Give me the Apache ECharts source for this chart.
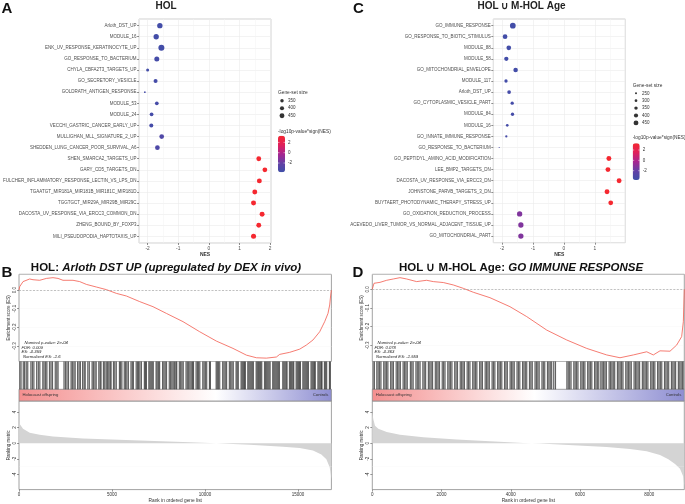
<!DOCTYPE html>
<html><head><meta charset="utf-8">
<script src="https://cdn.jsdelivr.net/npm/echarts@6/dist/echarts.min.js"></script>
<style>html,body{margin:0;padding:0;background:#fff}#c{width:685px;height:504px}</style>
</head><body><div id="c"></div>
<script>
// ---------- Panel A (HOL) ----------
const aTerms = ['Arloth_DST_UP','MODULE_16','ENK_UV_RESPONSE_KERATINOCYTE_UP','GO_RESPONSE_TO_BACTERIUM','CHYLA_CBFA2T3_TARGETS_UP','GO_SECRETORY_VESICLE','GOLDRATH_ANTIGEN_RESPONSE','MODULE_53','MODULE_24','VECCHI_GASTRIC_CANCER_EARLY_UP','MULLIGHAN_MLL_SIGNATURE_2_UP','SHEDDEN_LUNG_CANCER_POOR_SURVIVAL_A6','SHEN_SMARCA2_TARGETS_UP','GARY_CD5_TARGETS_DN','FULCHER_INFLAMMATORY_RESPONSE_LECTIN_VS_LPS_DN','TGAATGT_MIR181A_MIR181B_MIR181C_MIR181D','TGGTGCT_MIR29A_MIR29B_MIR29C','DACOSTA_UV_RESPONSE_VIA_ERCC3_COMMON_DN','ZHENG_BOUND_BY_FOXP3','MILI_PSEUDOPODIA_HAPTOTAXIS_UP'];
const aNES  = [-1.60,-1.72,-1.55,-1.70,-2.00,-1.74,-2.09,-1.70,-1.87,-1.88,-1.54,-1.68,1.63,1.83,1.65,1.50,1.46,1.74,1.63,1.46];
const aSize = [484,478,526,457,319,388,229,367,367,388,436,436,445,440,450,450,455,455,450,458];
const aLogP = [-3.6,-3.6,-3.6,-3.5,-3.6,-3.5,-3.5,-3.4,-3.5,-3.5,-3.0,-3.1,3.3,3.3,3.3,3.3,3.3,3.3,3.3,3.3];
const aSizeBreaks = ['350','400','450'];

// ---------- Panel C (HOL ∪ M-HOL Age) ----------
const cTerms = ['GO_IMMUNE_RESPONSE','GO_RESPONSE_TO_BIOTIC_STIMULUS','MODULE_88','MODULE_58','GO_MITOCHONDRIAL_ENVELOPE','MODULE_117','Arloth_DST_UP','GO_CYTOPLASMIC_VESICLE_PART','MODULE_84','MODULE_16','GO_INNATE_IMMUNE_RESPONSE','GO_RESPONSE_TO_BACTERIUM','GO_PEPTIDYL_AMINO_ACID_MODIFICATION','LEE_BMP2_TARGETS_DN','DACOSTA_UV_RESPONSE_VIA_ERCC3_DN','JOHNSTONE_PARVB_TARGETS_3_DN','BUYTAERT_PHOTODYNAMIC_THERAPY_STRESS_UP','GO_OXIDATION_REDUCTION_PROCESS','ACEVEDO_LIVER_TUMOR_VS_NORMAL_ADJACENT_TISSUE_UP','GO_MITOCHONDRIAL_PART'];
const cNES  = [-1.65,-1.90,-1.78,-1.86,-1.56,-1.87,-1.77,-1.67,-1.66,-1.83,-1.86,-2.09,1.45,1.42,1.78,1.39,1.51,-1.43,-1.39,-1.39];
const cSize = [505,436,436,409,425,340,367,340,340,298,271,190,450,450,450,450,440,478,478,478];
const cLogP = [-3.6,-3.6,-3.6,-3.6,-3.6,-3.6,-3.5,-3.5,-3.5,-3.5,-3.4,-3.3,3.3,3.3,3.3,3.3,3.3,-1.3,-1.3,-1.3];
const cSizeBreaks = ['250','300','350','400','450'];
const colorBreaks = [2,0,-2];
const minorBreaks = [-1.5,-0.5,0.5,1.5];

// ---------- Panel B (GSEA: Arloth DST UP) ----------
const esBRank = [0,38,217,575,753,1113,1473,1828,2097,2365,2903,3263,3623,4161,4699,5236,5774,6489,7204,7925,8817,9714,10612,11505,12225,12762,13300,13838,14015,14553,15090,15450,15805,16166,16434,16612,16703,16757,16795];
const esBVal  = [0,0.018,0.045,0.059,0.055,0.052,0.062,0.066,0.062,0.052,0.052,0.045,0.030,0.016,0.002,-0.018,-0.032,-0.062,-0.089,-0.125,-0.169,-0.223,-0.273,-0.312,-0.348,-0.362,-0.364,-0.358,-0.344,-0.333,-0.316,-0.294,-0.267,-0.223,-0.169,-0.125,-0.080,-0.027,0];
const rankBRank = [0,38,217,575,1113,1828,3443,6131,8817,10612,12405,14195,15090,15805,16255,16524,16703,16757,16795];
const rankBVal  = [3.3,2.45,1.84,1.35,1.1,0.86,0.61,0.37,0.16,0,-0.2,-0.45,-0.61,-0.94,-1.43,-2.04,-3.07,-3.89,-4.6];
const hitsB = [40,110,230,300,390,470,640,720,800,950,1040,1120,1280,1350,1430,1500,1640,1720,1800,1950,2030,2100,2420,2500,2580,2660,2800,2870,2950,3020,3150,3230,3300,3420,3500,3560,3700,3780,3930,4000,4080,4150,4290,4360,4410,4540,4610,4690,4760,4830,4900,4950,5080,5150,5230,5400,5460,5530,5660,5730,5800,5880,6020,6090,6150,6300,6370,6430,6500,6580,6740,6800,6850,6980,7040,7100,7160,7220,7370,7430,7500,7560,7720,7790,7860,7930,8080,8150,8220,8290,8360,8430,8480,8620,8690,8760,8830,8980,9050,9120,9190,9260,9330,9380,9520,9590,9650,9720,9880,9950,10020,10090,10240,10290,10600,10660,10720,10790,10950,11020,11090,11160,11310,11380,11450,11520,11670,11730,11790,11940,12000,12060,12120,12170,12300,12360,12420,12480,12540,12600,12750,12810,12870,12930,12990,13050,13200,13260,13320,13380,13440,13500,13640,13700,13760,13820,13880,13940,14000,14180,14240,14300,14360,14410,14540,14600,14660,14720,14770,14900,14960,15020,15080,15130,15260,15320,15380,15440,15500,15560,15700,15760,15820,15880,15930,16070,16130,16190,16250,16290,16420,16480,16540,16690,16740];
const nGenesB = 16795;
const statsB = ['Nominal p-value: 2e-04','FDR: 0.009','ES: -0.359','Normalized ES: -1.6'];

// ---------- Panel D (GSEA: GO IMMUNE RESPONSE) ----------
const esDRank = [0,49,222,415,607,800,992,1281,1570,1762,2051,2339,2628,2917,3398,3976,4459,5037,5615,6192,6770,7154,7538,7925,8116,8309,8598,8791,8935,8983,9011];
const esDVal  = [0,0.032,0.037,0.048,0.055,0.062,0.055,0.041,0.048,0.041,0.036,0.023,0.005,-0.016,-0.045,-0.093,-0.146,-0.218,-0.271,-0.316,-0.351,-0.366,-0.351,-0.334,-0.351,-0.329,-0.331,-0.298,-0.253,-0.173,0];
const rankDRank = [0,30,78,174,415,800,1474,2436,3398,4361,4842,5805,6768,7442,7923,8309,8550,8743,8887,8983,9011];
const rankDVal  = [3.9,3.07,2.25,1.84,1.43,1.1,0.78,0.49,0.25,0.04,-0.04,-0.25,-0.49,-0.74,-1.02,-1.51,-2.04,-2.66,-3.27,-4.29,-5.5];
const hitsD = [20,60,130,170,210,250,330,370,410,450,530,570,610,690,730,770,810,890,930,970,1010,1100,1140,1180,1260,1300,1340,1380,1460,1500,1540,1620,1660,1700,1740,1820,1860,1900,1940,2020,2060,2100,2180,2220,2260,2300,2380,2420,2460,2540,2580,2620,2660,2740,2780,2820,2900,2940,2980,3020,3100,3140,3180,3260,3300,3340,3380,3460,3500,3540,3620,3660,3700,3740,3820,3860,3900,3980,4020,4060,4100,4180,4220,4260,4340,4380,4420,4460,4540,4580,4620,4700,4740,4780,4820,4900,4940,4980,5060,5100,5140,5180,5240,5290,5620,5660,5700,5740,5820,5860,5900,5940,6020,6060,6100,6140,6220,6260,6300,6340,6420,6460,6500,6540,6600,6640,6680,6720,6760,6840,6880,6920,6960,7000,7080,7120,7160,7200,7240,7320,7360,7400,7440,7480,7560,7600,7640,7680,7720,7800,7840,7880,7920,7960,8040,8080,8120,8160,8240,8280,8320,8360,8440,8480,8520,8560,8640,8680,8720,8760,8840,8880,8920,8960,9000];
const nGenesD = 9011;
const statsD = ['Nominal p-value: 2e-04','FDR: 0.078','ES: -0.363','Normalized ES: -1.559'];

// ================== rendering ==================
const FF = "'Liberation Sans', Arial, Helvetica, sans-serif";
const chart = echarts.init(document.getElementById('c'), null, {renderer:'canvas'});
const diam = s => Math.max(1, 2 + (s - 250) * 0.0145);
const CMIN = -3.8, CMAX = 3.3;
const cStops = ['#3F4FA8','#6440A6','#A8248F','#E0205A','#F52830'];

const G = {
  a:{left:133,top:19,width:138,height:224},
  aL:{left:279,top:97,width:6,height:22.5},
  c:{left:493.3,top:19,width:132,height:223.7},
  cL:{left:633,top:89.6,width:6,height:37},
  bE:{left:19,top:274.3,width:312.4,height:87.2},
  bH:{left:19,top:361.5,width:312.4,height:27.8},
  bR:{left:19,top:401,width:312.4,height:92.3},
  dE:{left:372.3,top:274.3,width:312,height:87.2},
  dH:{left:372.3,top:361.5,width:312,height:27.8},
  dR:{left:372.3,top:401,width:312,height:92.3}
};
const order = ['a','aL','c','cL','bE','bH','bR','dE','dH','dR'];
const gi = k => order.indexOf(k);
const grids = order.map(k => {
  const g = Object.assign({containLabel:false, show:false}, G[k]);
  if (k==='a'||k==='c') { g.show=true; g.borderColor='#c4c4c4'; g.borderWidth=0.8; g.backgroundColor='transparent'; }
  if (k==='bE'||k==='dE'||k==='bR'||k==='dR') { g.show=true; g.borderColor='#8a8a8a'; g.borderWidth=0.8; g.backgroundColor='transparent'; }
  return g;
});

const lab = {fontFamily:FF, fontSize:4.8, color:'#4d4d4d'};
const noLine = {show:false, onZero:false};
const hidden = (gIdx, min, max) => ({type:'value', gridIndex:gIdx, min, max, show:false, axisLine:noLine, splitLine:{show:false}});

function nesX(gIdx, min, max) {
  return {type:'value', gridIndex:gIdx, min, max, splitNumber:4,
    axisLine:noLine, axisTick:{show:true, length:2, lineStyle:{color:'#444', width:0.6}},
    axisLabel:Object.assign({margin:3, showMinLabel:false, showMaxLabel:false}, lab),
    splitLine:{show:true, lineStyle:{color:'#ebebeb', width:0.6}},
    name:'NES', nameLocation:'middle', nameGap:9, nameTextStyle:{fontFamily:FF, fontSize:5, color:'#333', fontWeight:'bold'}};
}
function termY(gIdx, terms) {
  return {type:'value', gridIndex:gIdx, inverse:true, min:0.4, max:terms.length+0.6, splitNumber:terms.length,
    axisLine:noLine, axisTick:{show:true, length:2, lineStyle:{color:'#444', width:0.6}},
    axisLabel:Object.assign({margin:2.5, showMinLabel:false, showMaxLabel:false,
      formatter:v => (Math.abs(v-Math.round(v))<1e-6 && terms[Math.round(v)-1]) ? terms[Math.round(v)-1] : ''}, lab, {fontSize:4.5}),
    splitLine:{show:true, lineStyle:{color:'#ebebeb', width:0.6}}};
}
function legY(gIdx, cats) {
  return {type:'category', gridIndex:gIdx, data:cats, inverse:true, position:'right',
    axisLine:noLine, axisTick:{show:false}, splitLine:{show:false},
    axisLabel:{margin:3, fontFamily:FF, fontSize:4.5, color:'#333'}};
}
function esY(gIdx, min, max) {
  return {type:'value', gridIndex:gIdx, min, max, splitNumber:4,
    axisLine:noLine, axisTick:{show:true, length:2, lineStyle:{color:'#555', width:0.6}},
    axisLabel:Object.assign({margin:2, rotate:90, showMinLabel:false, showMaxLabel:false, formatter:v=>v.toFixed(1)}, lab, {fontSize:4.5, color:'#333'}),
    splitLine:{show:true, lineStyle:{color:'#eeeeee', width:0.5, type:'dotted'}},
    name:'Enrichment score (ES)', nameLocation:'middle', nameGap:8, nameRotate:90,
    nameTextStyle:{fontFamily:FF, fontSize:4.5, color:'#333'}};
}
function rankY(gIdx) {
  return {type:'value', gridIndex:gIdx, min:-5.93, max:5.4, splitNumber:5,
    axisLine:noLine, axisTick:{show:true, length:2, lineStyle:{color:'#555', width:0.6}},
    axisLabel:Object.assign({margin:2, rotate:90, showMinLabel:false, showMaxLabel:false, formatter:v=>String(v)}, lab, {fontSize:4.5, color:'#333'}),
    splitLine:{show:false},
    name:'Ranking metric', nameLocation:'middle', nameGap:8, nameRotate:90,
    nameTextStyle:{fontFamily:FF, fontSize:4.5, color:'#333'}};
}
function rankX(gIdx, max, split) {
  return {type:'value', gridIndex:gIdx, min:0, max, splitNumber:split, position:'bottom',
    axisLine:noLine, axisTick:{show:true, length:2, lineStyle:{color:'#555', width:0.6}},
    axisLabel:Object.assign({margin:2.5, showMaxLabel:false, formatter:v=>String(v)}, lab, {fontSize:4.5, color:'#333'}),
    splitLine:{show:false},
    name:'Rank in ordered gene list', nameLocation:'middle', nameGap:8,
    nameTextStyle:{fontFamily:FF, fontSize:4.8, color:'#333'}};
}

const xAxis = [
  nesX(gi('a'), -2.28, 2.03),
  hidden(gi('aL'), 0, 1),
  nesX(gi('c'), -2.28, 1.98),
  hidden(gi('cL'), 0, 1),
  hidden(gi('bE'), 0, nGenesB),
  hidden(gi('bH'), 0, nGenesB),
  rankX(gi('bR'), nGenesB, 3),
  hidden(gi('dE'), 0, nGenesD),
  hidden(gi('dH'), 0, nGenesD),
  rankX(gi('dR'), nGenesD, 4)
];
const yAxis = [
  termY(gi('a'), aTerms),
  legY(gi('aL'), aSizeBreaks),
  termY(gi('c'), cTerms),
  legY(gi('cL'), cSizeBreaks),
  esY(gi('bE'), -0.382, 0.084),
  hidden(gi('bH'), 0, 1),
  rankY(gi('bR')),
  esY(gi('dE'), -0.386, 0.080),
  hidden(gi('dH'), 0, 1),
  rankY(gi('dR'))
];

const minorML = {silent:true, symbol:'none', label:{show:false}, animation:false,
  lineStyle:{color:'#f3f3f3', width:0.5, type:'solid'}, data:minorBreaks.map(v=>({xAxis:v}))};

function dots(idx, terms, nes, size, logp) {
  return {type:'scatter', xAxisIndex:idx, yAxisIndex:idx, z:5,
    data: terms.map((t,i)=>[nes[i], i+1, size[i], logp[i]]),
    symbolSize: v => diam(v[2]), itemStyle:{opacity:1}, markLine:minorML, animation:false};
}
function legDots(idx, cats) {
  return {type:'scatter', xAxisIndex:idx, yAxisIndex:idx, data:cats.map(c=>[0.5, c]),
    symbolSize: v => diam(+v[1]), itemStyle:{color:'#000'}, animation:false};
}
function esLine(idx, rk, vals) {
  return {type:'line', xAxisIndex:idx, yAxisIndex:idx, data:rk.map((r,i)=>[r, vals[i]]),
    showSymbol:false, smooth:false, lineStyle:{color:'#F25B4E', width:0.8}, animation:false,
    markLine:{silent:true, symbol:'none', label:{show:false}, lineStyle:{color:'#9a9a9a', width:0.6, type:[2,1.5]}, data:[{yAxis:0}]}};
}
function hitSeries(idx, hits) {
  return {type:'custom', xAxisIndex:idx, yAxisIndex:idx, data:hits.map(h=>[h,0]), encode:{x:0,y:1}, animation:false,
    renderItem:(params, api) => {
      const x = api.coord([api.value(0), 0])[0];
      const cs = params.coordSys;
      return {type:'line', shape:{x1:x, y1:cs.y, x2:x, y2:cs.y+cs.height},
        style:{stroke:'rgba(0,0,0,0.62)', lineWidth:1.2}};
    }};
}
function rankArea(idx, rk, vals) {
  return {type:'line', xAxisIndex:idx, yAxisIndex:idx, data:rk.map((r,i)=>[r, vals[i]]),
    showSymbol:false, lineStyle:{width:0, color:'#d4d4d4'}, areaStyle:{color:'#d4d4d4', opacity:1}, animation:false,
    markLine:{silent:true, symbol:'none', label:{show:false}, lineStyle:{color:'#f0f0f0', width:0.5, type:'dotted'}, data:[{yAxis:-2.95}]}};
}

const series = [
  dots(0, aTerms, aNES, aSize, aLogP),
  legDots(1, aSizeBreaks),
  dots(2, cTerms, cNES, cSize, cLogP),
  legDots(3, cSizeBreaks),
  esLine(4, esBRank, esBVal),
  hitSeries(5, hitsB),
  rankArea(6, rankBRank, rankBVal),
  esLine(7, esDRank, esDVal),
  hitSeries(8, hitsD),
  rankArea(9, rankDRank, rankDVal)
];

function vm(seriesIndex, left, top) {
  return {type:'continuous', seriesIndex, dimension:3, min:CMIN, max:CMAX, inRange:{color:cStops},
    show:true, calculable:false, hoverLink:false, left, top, itemWidth:7, itemHeight:36.6, padding:0, text:null, orient:'vertical'};
}

// graphic elements
const gfx = [];
const txt = (x, y, text, style) => gfx.push({type:'text', x, y, silent:true,
  style:Object.assign({text, fontFamily:FF, fontSize:5, fill:'#333', textVerticalAlign:'middle', verticalAlign:'middle'}, style)});
txt(1.5, 8.5, 'A', {fontSize:15, fontWeight:'bold', fill:'#111'});
txt(353, 9, 'C', {fontSize:15, fontWeight:'bold', fill:'#111'});
txt(1.5, 273, 'B', {fontSize:15, fontWeight:'bold', fill:'#111'});
txt(352.5, 273, 'D', {fontSize:15, fontWeight:'bold', fill:'#111'});
txt(166, 6, 'HOL', {fontSize:10, fontWeight:'bold', fill:'#222', align:'center', textAlign:'center'});
txt(521.5, 6, 'HOL \u222A M-HOL Age', {fontSize:10, fontWeight:'bold', fill:'#222', align:'center', textAlign:'center'});
function richTitle(x, y, a, b) {
  gfx.push({type:'text', x, y, silent:true, style:{text:'{n|'+a+'}{i|'+b+'}', align:'center', textAlign:'center', verticalAlign:'middle', textVerticalAlign:'middle',
    rich:{n:{fontFamily:FF, fontSize:11.5, fontWeight:'bold', fill:'#111', color:'#111'}, i:{fontFamily:FF, fontSize:11.5, fontWeight:'bold', fontStyle:'italic', fill:'#111', color:'#111'}}}});
}
richTitle(166, 267.5, 'HOL: ', 'Arloth DST UP (upregulated by DEX in vivo)');
richTitle(521, 267.5, 'HOL \u222A M-HOL Age: ', 'GO IMMUNE RESPONSE');
txt(278, 93, 'Gene-set size', {fontSize:4.8});
txt(278, 131.7, '-log10p-value*sign(NES)', {fontSize:4.8});
txt(632.7, 85.3, 'Gene-set size', {fontSize:4.8});
txt(632.7, 137.3, '-log10p-value*sign(NES)', {fontSize:4.8});
function cbLabels(left, top, h) {
  colorBreaks.forEach(v => {
    const y = top + (CMAX - v) / (CMAX - CMIN) * h;
    txt(left + 10, y, String(v), {fontSize:4.5});
    gfx.push({type:'line', silent:true, z:100, shape:{x1:left, y1:y, x2:left+1.5, y2:y}, style:{stroke:'#fff', lineWidth:0.5}});
    gfx.push({type:'line', silent:true, z:100, shape:{x1:left+5.5, y1:y, x2:left+7, y2:y}, style:{stroke:'#fff', lineWidth:0.5}});
  });
}
function stats(x, y0, lines) {
  lines.forEach((l,i) => txt(x + (i===0?3:(i===3?1.5:0)), y0 + i*4.7, l, {fontSize:4.2, fontStyle:'italic', fill:'#222'}));
}
stats(21.5, 342.7, statsB);
stats(374.5, 342.7, statsD);
function gradBar(g, cross) {
  gfx.push({type:'rect', silent:true, shape:{x:g.left, y:389.3, width:g.width, height:11.7},
    style:{fill:new echarts.graphic.LinearGradient(0,0,1,0,[{offset:0,color:'#F48F8F'},{offset:cross,color:'#FFFFFF'},{offset:1,color:'#8E8ED2'}]), stroke:'#8a8a8a', lineWidth:0.8}});
  txt(g.left + 3.5, 395.2, 'Holocaust offspring', {fontSize:4.2, fill:'#333'});
  txt(g.left + g.width - 3, 395.2, 'Controls', {fontSize:4.2, fill:'#333', align:'right', textAlign:'right'});
}
gradBar(G.bR, 0.63);
gradBar(G.dR, 0.52);
cbLabels(278, 135.7, 36.6);
cbLabels(632.7, 143.3, 36.7);

chart.setOption({
  animation:false,
  backgroundColor:'#fff',
  grid:grids, xAxis, yAxis, series,
  visualMap:[vm(0, 278, 135.7), vm(2, 632.7, 143.3)],
  graphic:gfx
});
</script></body></html>
